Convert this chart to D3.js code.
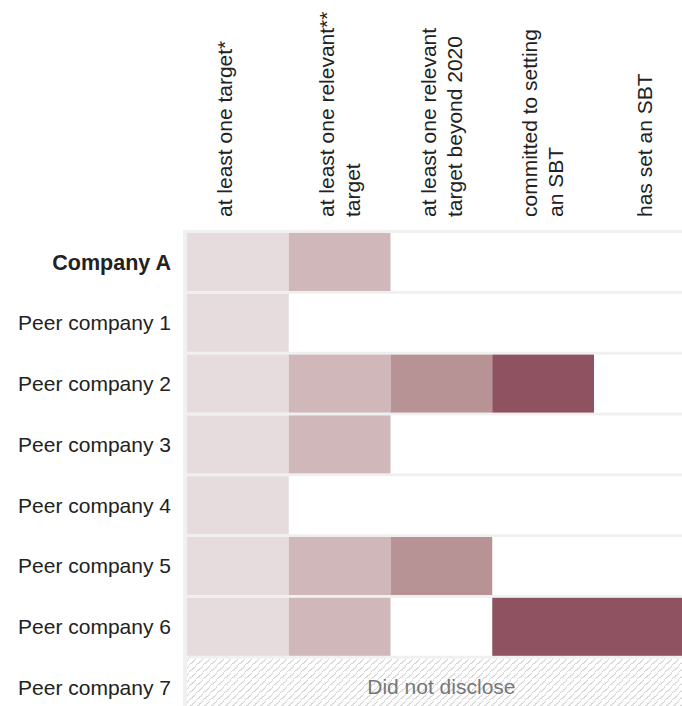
<!DOCTYPE html>
<html>
<head>
<meta charset="utf-8">
<script src="https://cdn.jsdelivr.net/npm/d3@7"></script>
<style>
  body { margin: 0; background: #fff; }
  svg { display: block; font-family: "Liberation Sans", Arial, sans-serif; }
</style>
</head>
<body>
<div id="vis"></div>
<script>
const width = 682;
const height = 706;

// data
const companies = ['Company A', 'Peer company 1', 'Peer company 2', 'Peer company 3',
  'Peer company 4', 'Peer company 5', 'Peer company 6', 'Peer company 7'];
const columnLabels = [
  ['at least one target*', ''],
  ['at least one relevant**', 'target'],
  ['at least one relevant', 'target beyond 2020'],
  ['committed to setting', 'an SBT'],
  ['has set an SBT']
];
// 1 = yes, 0 = no, null = did not disclose
const companyA = [1, 1, 0, 0, 0];
const peer1 = [1, 0, 0, 0, 0];
const peer2 = [1, 1, 1, 1, 0];
const peer3 = [1, 1, 0, 0, 0];
const peer4 = [1, 0, 0, 0, 0];
const peer5 = [1, 1, 1, 0, 0];
const peer6 = [1, 1, 0, 1, 1];
const peer7 = null;
const statusRows = [companyA, peer1, peer2, peer3, peer4, peer5, peer6, peer7];
const columnColors = ['#e7dcdd', '#d0b8ba', '#b89395', '#8f5261', '#8f5261'];

const svg = d3.select('#vis').append('svg')
  .attr('width', width)
  .attr('height', height);

const defs = svg.append('defs');
const hatch = defs.append('pattern')
  .attr('id', 'hatch')
  .attr('patternUnits', 'userSpaceOnUse')
  .attr('width', 7)
  .attr('height', 7);
hatch.append('rect').attr('width', 7).attr('height', 7).attr('fill', '#fff');
hatch.append('path')
  .attr('d', 'M-1,8 L2,5 L3,5.5 L4,3 L5,3.5 L8,-1')
  .attr('fill', 'none')
  .attr('stroke', '#cfcfcf')
  .attr('stroke-width', 1);

const colIds = d3.range(columnLabels.length);
const x = d3.scaleBand()
  .domain(colIds)
  .range([187, 187 + 5 * 101.75]);

const y = d3.scaleBand()
  .domain(companies)
  .range([233, 233 + 8 * 60.8 - 2.8])
  .paddingInner(2.8 / 60.8)
  .paddingOuter(0);

// grey grid background
svg.append('rect')
  .attr('x', x.range()[0] - 4)
  .attr('y', y.range()[0] - 3)
  .attr('width', x.range()[1] - x.range()[0] + 8)
  .attr('height', height)
  .attr('fill', '#f0f0f0');

// rows
const rows = svg.selectAll('g.row')
  .data(companies)
  .join('g')
  .attr('class', 'row');

rows.append('rect')
  .attr('x', x.range()[0])
  .attr('y', d => y(d))
  .attr('width', x.range()[1] - x.range()[0])
  .attr('height', y.bandwidth())
  .attr('fill', (d, i) => statusRows[i] === null ? 'url(#hatch)' : '#fff');

rows.each(function (d, i) {
  const status = statusRows[i];
  if (status === null) return;
  d3.select(this).selectAll('rect.cell')
    .data(colIds.filter(c => status[c] === 1))
    .join('rect')
    .attr('class', 'cell')
    .attr('x', c => x(c))
    .attr('y', y(d))
    .attr('width', x.bandwidth())
    .attr('height', y.bandwidth())
    .attr('fill', c => columnColors[c]);
});

// did not disclose
companies.forEach((d, i) => {
  if (statusRows[i] !== null) return;
  svg.append('text')
    .attr('x', (x.range()[0] + x.range()[1]) / 2)
    .attr('y', y(d) + y.bandwidth() / 2 - 1)
    .attr('dy', '0.35em')
    .attr('text-anchor', 'middle')
    .attr('font-size', 21)
    .attr('fill', '#777')
    .text('Did not disclose');
});

// row labels
svg.selectAll('text.rowLabel')
  .data(companies)
  .join('text')
  .attr('class', 'rowLabel')
  .attr('x', 171)
  .attr('y', d => y(d) + y.bandwidth() / 2)
  .attr('dy', '0.35em')
  .attr('text-anchor', 'end')
  .attr('font-size', (d, i) => i === 0 ? 21.5 : 21)
  .attr('font-weight', (d, i) => i === 0 ? 'bold' : 'normal')
  .attr('fill', '#222')
  .text(d => d);

// column headers, rotated
const lineGap = 26;
const headers = svg.selectAll('g.header')
  .data(columnLabels)
  .join('g')
  .attr('class', 'header')
  .attr('transform', (d, i) => `translate(${x(i) + x.bandwidth() / 2},217) rotate(-90)`);

headers.selectAll('text')
  .data(d => d.map((t, j) => ({ t, j, n: d.length })))
  .join('text')
  .attr('x', 0)
  .attr('y', d => (d.j - (d.n - 1) / 2) * lineGap)
  .attr('dy', '0.35em')
  .attr('font-size', 21)
  .attr('fill', '#222')
  .text(d => d.t);
</script>
</body>
</html>
